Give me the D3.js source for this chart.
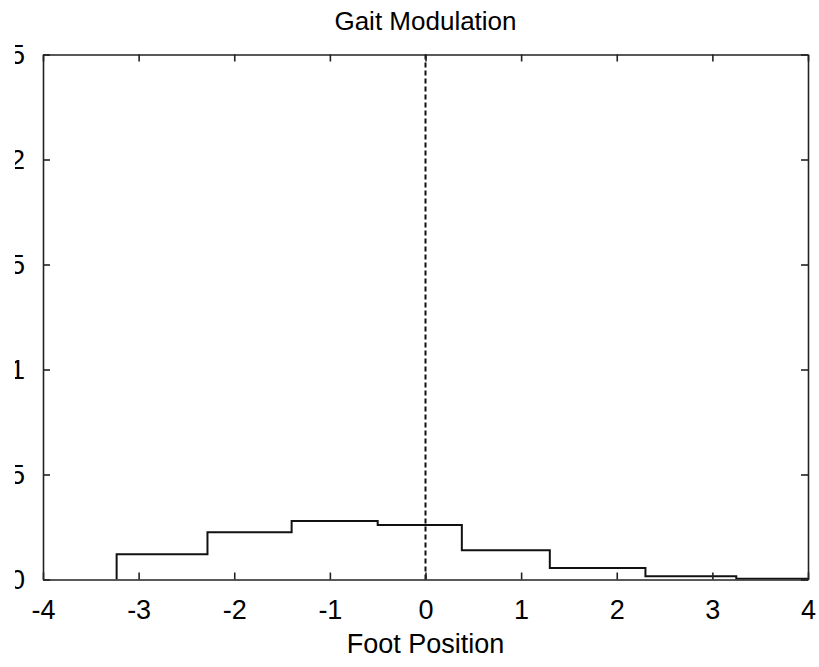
<!DOCTYPE html>
<html>
<head>
<meta charset="utf-8">
<script src="https://cdn.jsdelivr.net/npm/d3@7"></script>
<style>
  body { margin: 0; background: #fff; }
  svg { display: block; }
  text { font-family: "Liberation Sans", Arial, sans-serif; fill: #000; }
</style>
</head>
<body>
<svg id="chart"></svg>
<script>
// histogram bin edges and heights
const binEdges = [-3.23, -2.28, -1.40, -0.50, 0.38, 1.30, 2.30, 3.25, 4.2];
const binValues = [0.12, 0.225, 0.278, 0.26, 0.139, 0.055, 0.015, 0.004];
const xTicks = [-4, -3, -2, -1, 0, 1, 2, 3, 4];
const yTicks = [0, 0.5, 1, 1.5, 2, 2.5];
const yTickLabels = ["0", "0.5", "1", "1.5", "2", "2.5"];
const markerX = 0;

const width = 819;
const height = 667;
const margin = { top: 54.5, right: 11, bottom: 87.5, left: 43 };

const svg = d3.select("#chart").attr("width", width).attr("height", height);

const x = d3.scaleLinear()
  .domain([-4, 4])
  .range([margin.left, width - margin.right]);

const y = d3.scaleLinear()
  .domain([0, 2.5])
  .range([height - margin.bottom, margin.top]);

const defs = svg.append("defs");
defs.append("clipPath").attr("id", "plotClip")
  .append("rect")
  .attr("x", margin.left)
  .attr("y", margin.top)
  .attr("width", width - margin.left - margin.right)
  .attr("height", height - margin.top - margin.bottom);
// left strip of the picture is cut off in the reference
defs.append("clipPath").attr("id", "leftCut")
  .append("rect")
  .attr("x", 15).attr("y", 0).attr("width", width).attr("height", height);

// stairs
const stairPts = binValues.map((v, i) => [binEdges[i], v]);
stairPts.unshift([binEdges[0], 0]);
stairPts.push([binEdges[binEdges.length - 1], binValues[binValues.length - 1]]);

const stairLine = d3.line()
  .x((d) => x(d[0]))
  .y((d) => y(d[1]))
  .curve(d3.curveStepAfter);

svg.append("path")
  .attr("clip-path", "url(#plotClip)")
  .attr("d", stairLine(stairPts))
  .attr("fill", "none")
  .attr("stroke", "#111")
  .attr("stroke-width", 2);

// dashed marker at 0
svg.append("line")
  .attr("x1", x(markerX)).attr("x2", x(markerX))
  .attr("y1", y(0)).attr("y2", y(2.5))
  .attr("stroke", "#111")
  .attr("stroke-width", 2)
  .attr("stroke-dasharray", "5,3");

// axes (MATLAB box with inward ticks)
const tickLen = 7;
const axisColor = "#222";

const bottomAxis = svg.append("g")
  .attr("transform", `translate(0,${y(0)})`)
  .call(d3.axisBottom(x).tickValues(xTicks).tickSizeInner(-tickLen).tickSizeOuter(0)
    .tickPadding(tickLen + 13).tickFormat(d3.format("d")));
bottomAxis.selectAll("text").style("font-size", "27px").text((d) => String(d));

svg.append("g")
  .attr("transform", `translate(0,${y(2.5)})`)
  .call(d3.axisTop(x).tickValues(xTicks).tickSizeInner(-tickLen).tickSizeOuter(0).tickFormat(""));

const leftWrap = svg.append("g").attr("clip-path", "url(#leftCut)");
const leftAxis = leftWrap.append("g")
  .attr("transform", `translate(${x(-4)},0)`)
  .call(d3.axisLeft(y).tickValues(yTicks).tickSizeInner(-tickLen).tickSizeOuter(0)
    .tickPadding(tickLen + 11).tickFormat((d, i) => yTickLabels[i]));
leftAxis.selectAll("text").style("font-size", "27px");

svg.append("g")
  .attr("transform", `translate(${x(4)},0)`)
  .call(d3.axisRight(y).tickValues(yTicks).tickSizeInner(-tickLen).tickSizeOuter(0).tickFormat(""));

svg.selectAll(".domain, .tick line")
  .attr("stroke", axisColor)
  .attr("stroke-width", 1.6);

// title and axis label
svg.append("text")
  .attr("x", (x(-4) + x(4)) / 2)
  .attr("y", 30)
  .attr("text-anchor", "middle")
  .style("font-size", "26px")
  .text("Gait Modulation");

svg.append("text")
  .attr("x", (x(-4) + x(4)) / 2)
  .attr("y", 653)
  .attr("text-anchor", "middle")
  .style("font-size", "27px")
  .text("Foot Position");
</script>
</body>
</html>
